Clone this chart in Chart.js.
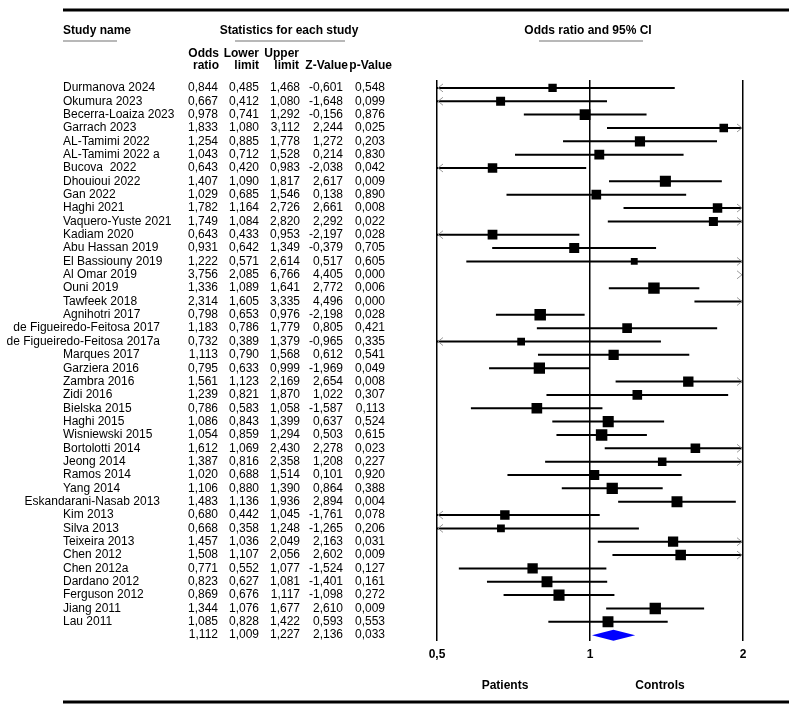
<!DOCTYPE html>
<html>
<head>
<meta charset="utf-8">
<script src="https://cdn.jsdelivr.net/npm/chart.js@4.4.1/dist/chart.umd.min.js"></script>
<style>
  html, body { margin: 0; padding: 0; background: #fff; }
  #wrap { width: 789px; height: 710px; }
</style>
</head>
<body>
<div id="wrap"><canvas id="forest" width="789" height="710"></canvas></div>
<script>
const studyNames = [
    'Durmanova 2024', 'Okumura 2023', 'Becerra-Loaiza 2023', 'Garrach 2023', 'AL-Tamimi 2022',
    'AL-Tamimi 2022 a', 'Bucova  2022', 'Dhouioui 2022', 'Gan 2022', 'Haghi 2021',
    'Vaquero-Yuste 2021', 'Kadiam 2020', 'Abu Hassan 2019', 'El Bassiouny 2019', 'Al Omar 2019',
    'Ouni 2019', 'Tawfeek 2018', 'Agnihotri 2017', 'de Figueiredo-Feitosa 2017', 'de Figueiredo-Feitosa 2017a',
    'Marques 2017', 'Garziera 2016', 'Zambra 2016', 'Zidi 2016', 'Bielska 2015',
    'Haghi 2015', 'Wisniewski 2015', 'Bortolotti 2014', 'Jeong 2014', 'Ramos 2014',
    'Yang 2014', 'Eskandarani-Nasab 2013', 'Kim 2013', 'Silva 2013', 'Teixeira 2013',
    'Chen 2012', 'Chen 2012a', 'Dardano 2012', 'Ferguson 2012', 'Jiang 2011',
    'Lau 2011'
];
const oddsRatio = [
    0.844, 0.667, 0.978, 1.833, 1.254, 1.043, 0.643, 1.407, 1.029, 1.782,
    1.749, 0.643, 0.931, 1.222, 3.756, 1.336, 2.314, 0.798, 1.183, 0.732,
    1.113, 0.795, 1.561, 1.239, 0.786, 1.086, 1.054, 1.612, 1.387, 1.020,
    1.106, 1.483, 0.680, 0.668, 1.457, 1.508, 0.771, 0.823, 0.869, 1.344,
    1.085
];
const lowerLimit = [
    0.485, 0.412, 0.741, 1.080, 0.885, 0.712, 0.420, 1.090, 0.685, 1.164,
    1.084, 0.433, 0.642, 0.571, 2.085, 1.089, 1.605, 0.653, 0.786, 0.389,
    0.790, 0.633, 1.123, 0.821, 0.583, 0.843, 0.859, 1.069, 0.816, 0.688,
    0.880, 1.136, 0.442, 0.358, 1.036, 1.107, 0.552, 0.627, 0.676, 1.076,
    0.828
];
const upperLimit = [
    1.468, 1.080, 1.292, 3.112, 1.778, 1.528, 0.983, 1.817, 1.546, 2.726,
    2.820, 0.953, 1.349, 2.614, 6.766, 1.641, 3.335, 0.976, 1.779, 1.379,
    1.568, 0.999, 2.169, 1.870, 1.058, 1.399, 1.294, 2.430, 2.358, 1.514,
    1.390, 1.936, 1.045, 1.248, 2.049, 2.056, 1.077, 1.081, 1.117, 1.677,
    1.422
];
const zValue = [
    -0.601, -1.648, -0.156, 2.244, 1.272, 0.214, -2.038, 2.617, 0.138, 2.661,
    2.292, -2.197, -0.379, 0.517, 4.405, 2.772, 4.496, -2.198, 0.805, -0.965,
    0.612, -1.969, 2.654, 1.022, -1.587, 0.637, 0.503, 2.278, 1.208, 0.101,
    0.864, 2.894, -1.761, -1.265, 2.163, 2.602, -1.524, -1.401, -1.098, 2.610,
    0.593
];
const pValue = [
    0.548, 0.099, 0.876, 0.025, 0.203, 0.830, 0.042, 0.009, 0.890, 0.008,
    0.022, 0.028, 0.705, 0.605, 0.000, 0.006, 0.000, 0.028, 0.421, 0.335,
    0.541, 0.049, 0.008, 0.307, 0.113, 0.524, 0.615, 0.023, 0.227, 0.920,
    0.388, 0.004, 0.078, 0.206, 0.031, 0.009, 0.127, 0.161, 0.272, 0.009,
    0.553
];
// pooled: odds ratio, lower, upper, z, p
const summaryValues = [1.112, 1.009, 1.227, 2.136, 0.033];

const axisTicks = [0.5, 1, 2];
const tickLabels = ['0,5', '1', '2'];

const FONT = '"Liberation Sans", Arial, Helvetica, sans-serif';
Chart.defaults.font.family = FONT;

const summaryRow = studyNames.length + 1;
const fmt = v => v.toFixed(3).replace('.', ',');

// box size follows random-effects weight (DerSimonian-Laird), derived from the CIs
const logOr = oddsRatio.map(v => Math.log(v));
const se = lowerLimit.map((l, i) => (Math.log(upperLimit[i]) - Math.log(l)) / (2 * 1.96));
const wFix = se.map(s => 1 / (s * s));
const sumW = wFix.reduce((a, b) => a + b, 0);
const sumW2 = wFix.reduce((a, b) => a + b * b, 0);
const muFix = wFix.reduce((a, w, i) => a + w * logOr[i], 0) / sumW;
const Q = wFix.reduce((a, w, i) => a + w * (logOr[i] - muFix) ** 2, 0);
const tau2 = Math.max(0, (Q - (studyNames.length - 1)) / (sumW - sumW2 / sumW));
const wRand = se.map(s => 1 / (s * s + tau2));
const wMax = Math.max(...wRand);
const boxRadius = wRand.map(w => 11.5 * Math.sqrt(w / wMax) / Math.SQRT2);

const orPoints = oddsRatio.map((v, i) => ({ x: v, y: i + 1 }));
const ciPoints = [];
lowerLimit.forEach((l, i) => {
    ciPoints.push({ x: l, y: i + 1 }, { x: upperLimit[i], y: i + 1 }, { x: upperLimit[i], y: null });
});

function arrow(ctx, ex, py, dir) {
    ctx.beginPath();
    ctx.moveTo(ex + dir * 5, py - 4);
    ctx.lineTo(ex, py);
    ctx.lineTo(ex + dir * 5, py + 4);
    ctx.stroke();
}

const forestTable = {
    id: 'forestTable',
    afterDatasetsDraw(chart) {
        const { ctx, chartArea } = chart;
        const x = chart.scales.x, y = chart.scales.y;
        ctx.save();
        ctx.strokeStyle = '#9a9a9a';
        ctx.lineWidth = 1;
        studyNames.forEach((_, i) => {
            const py = y.getPixelForValue(i + 1);
            if (lowerLimit[i] < x.min) arrow(ctx, chartArea.left + 1, py, 1);
            if (upperLimit[i] > x.max) arrow(ctx, chartArea.right - 1, py, -1);
        });
        const dy = y.getPixelForValue(summaryRow);
        const h = 5.5;
        ctx.beginPath();
        ctx.moveTo(x.getPixelForValue(summaryValues[1]), dy);
        ctx.lineTo(x.getPixelForValue(summaryValues[0]), dy - h);
        ctx.lineTo(x.getPixelForValue(summaryValues[2]), dy);
        ctx.lineTo(x.getPixelForValue(summaryValues[0]), dy + h);
        ctx.closePath();
        ctx.fillStyle = '#0000ff';
        ctx.fill();
        ctx.restore();
    },
    afterDraw(chart) {
        const { ctx } = chart;
        const y = chart.scales.y;
        const colRight = [218, 259, 300, 343, 385];
        ctx.save();
        ctx.fillStyle = '#000';
        ctx.textBaseline = 'middle';

        // rules
        ctx.fillRect(63, 8.5, 726, 3);
        ctx.fillRect(63, 700.5, 726, 3);
        ctx.strokeStyle = '#a0a0a0';
        ctx.lineWidth = 1.5;
        [[63, 117], [235, 345], [539, 643]].forEach(([a, b]) => {
            ctx.beginPath(); ctx.moveTo(a, 41); ctx.lineTo(b, 41); ctx.stroke();
        });

        // headers
        ctx.font = 'bold 12px ' + FONT;
        ctx.textAlign = 'left';
        ctx.fillText('Study name', 63, 31);
        ctx.textAlign = 'center';
        ctx.fillText('Statistics for each study', 289, 31);
        ctx.fillText('Odds ratio and 95% CI', 588, 31);
        ctx.fillText('Patients', 505, 686);
        ctx.fillText('Controls', 660, 686);
        ctx.textAlign = 'right';
        ctx.fillText('Odds', 219, 54); ctx.fillText('ratio', 219, 66);
        ctx.fillText('Lower', 259, 54); ctx.fillText('limit', 259, 66);
        ctx.fillText('Upper', 299, 54); ctx.fillText('limit', 299, 66);
        ctx.fillText('Z-Value', 348, 66);
        ctx.fillText('p-Value', 392, 66);

        // rows
        ctx.font = '12px ' + FONT;
        studyNames.forEach((name, i) => {
            const py = y.getPixelForValue(i + 1);
            if (ctx.measureText(name).width > 125) {
                ctx.textAlign = 'right';
                ctx.fillText(name, 160, py);
            } else {
                ctx.textAlign = 'left';
                ctx.fillText(name, 63, py);
            }
            ctx.textAlign = 'right';
            [oddsRatio[i], lowerLimit[i], upperLimit[i], zValue[i], pValue[i]].forEach((v, c) => {
                ctx.fillText(fmt(v), colRight[c], py);
            });
        });
        const sy = y.getPixelForValue(summaryRow);
        ctx.textAlign = 'right';
        summaryValues.forEach((v, c) => ctx.fillText(fmt(v), colRight[c], sy));
        ctx.restore();
    }
};

new Chart(document.getElementById('forest'), {
    type: 'scatter',
    data: {
        datasets: [
            {
                label: 'Odds ratio',
                data: orPoints,
                pointStyle: 'rect',
                pointRadius: boxRadius,
                backgroundColor: '#000',
                borderWidth: 0,
                clip: 0
            },
            {
                label: '95% CI',
                data: ciPoints,
                showLine: true,
                spanGaps: false,
                borderColor: '#000',
                borderWidth: 2,
                pointRadius: 0,
                clip: 0
            }
        ]
    },
    options: {
        responsive: false,
        animation: false,
        events: [],
        layout: { padding: { left: 437, right: 46, top: 80, bottom: 41 } },
        plugins: { legend: { display: false }, tooltip: { enabled: false } },
        scales: {
            x: {
                type: 'logarithmic',
                min: 0.5,
                max: 2,
                afterBuildTicks: axis => { axis.ticks = axisTicks.map(v => ({ value: v })); },
                ticks: {
                    autoSkip: false,
                    maxRotation: 0,
                    padding: 7,
                    color: '#000',
                    font: { size: 12, weight: 'bold' },
                    callback: v => tickLabels[axisTicks.indexOf(v)]
                },
                grid: { color: '#000', lineWidth: 1.5, drawTicks: false },
                border: { display: false }
            },
            y: {
                type: 'linear',
                reverse: true,
                min: 0.407,
                max: 42.407,
                display: false
            }
        }
    },
    plugins: [forestTable]
});
</script>
</body>
</html>
